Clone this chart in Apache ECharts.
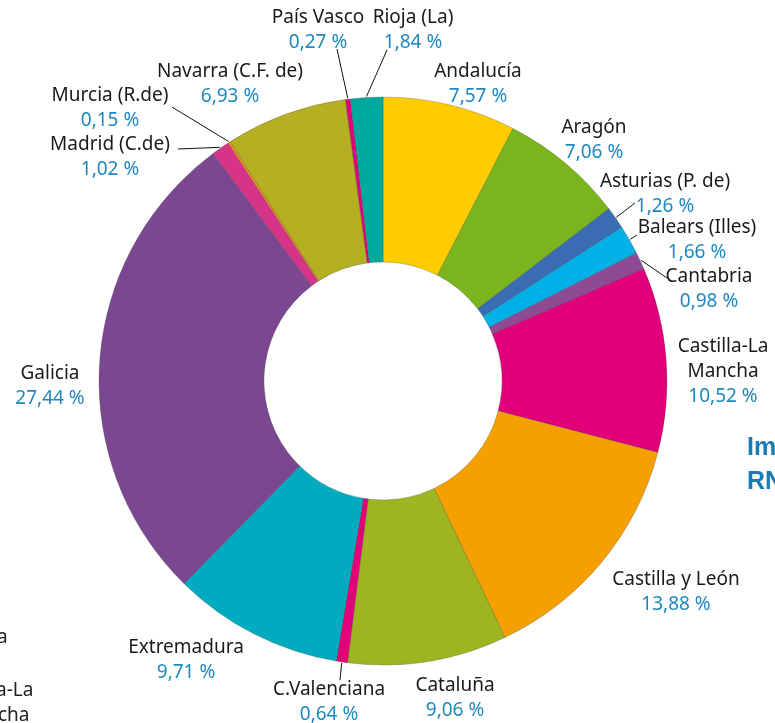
<!DOCTYPE html>
<html>
<head>
<meta charset="utf-8">
<script src="https://cdn.jsdelivr.net/npm/echarts@6/dist/echarts.min.js"></script>
<style>
html,body{margin:0;padding:0;background:#fff;}
#chart{width:775px;height:723px;}
</style>
</head>
<body>
<div id="chart"></div>
<script>
var regions = ['Andalucía', 'Aragón', 'Asturias (P. de)', 'Balears (Illes)', 'Cantabria', 'Castilla-La Mancha',
    'Castilla y León', 'Cataluña', 'C.Valenciana', 'Extremadura', 'Galicia', 'Madrid (C.de)',
    'Murcia (R.de)', 'Navarra (C.F. de)', 'País Vasco', 'Rioja (La)'];
var shares = [7.57, 7.06, 1.26, 1.66, 0.98, 10.52, 13.88, 9.06, 0.64, 9.71, 27.44, 1.02, 0.15, 6.93, 0.27, 1.84];
var colors = ['#ffcc00', '#7ab51e', '#3a6cb3', '#00b0e6', '#8f4a96', '#e2007a', '#f5a000', '#9fb520',
    '#e2007a', '#00aabf', '#7a4790', '#d63389', '#f08a1d', '#b5b021', '#e2007a', '#00a99d'];

// label placement: [x, y, end of guide line or null]
var labelSpots = [
    [478, 84, null], [594, 140, null], [665, 194, [635, 203]], [697, 240, [637, 235]],
    [709, 289, [667, 278]], [723, 372, null], [676, 592, null], [455, 698, null],
    [329, 702, [340, 680]], [186, 660, null], [50, 386, null], [110, 157, [178, 149]],
    [110, 108, [172, 107]], [230, 84, null], [318, 30, [337, 49]], [413, 30, [387, 50]]
];

var cx = 383, cy = 381, rIn = 119, rOut = 284;

var total = 0;
shares.forEach(function (v) { total += v; });
var midAngles = [];
var acc = 0;
shares.forEach(function (v) {
    midAngles.push((acc + v / 2) / total * Math.PI * 2);
    acc += v;
});

function fmtPct(v) {
    return v.toFixed(2).replace('.', ',') + ' %';
}

var pieData = regions.map(function (name, i) {
    return {
        name: name,
        value: shares[i],
        itemStyle: { color: colors[i] },
        labelLine: { show: labelSpots[i][2] != null }
    };
});

var myChart = echarts.init(document.getElementById('chart'));
var option = {
    animation: false,
    backgroundColor: '#fff',
    textStyle: { fontFamily: 'Noto Sans' },
    graphic: [
        { type: 'text', left: -3, top: 628, style: { text: 'a', font: '19px "Noto Sans"', fill: '#222' } },
        { type: 'text', left: -4, top: 681, style: { text: 'a-La', font: '19px "Noto Sans"', fill: '#222' } },
        { type: 'text', left: -2, top: 706, style: { text: 'cha', font: '19px "Noto Sans"', fill: '#222' } },
        { type: 'text', left: 747, top: 436, style: { text: 'Im', font: 'bold 25px "Liberation Sans"', fill: '#1a7cb4' } },
        { type: 'text', left: 747, top: 470, style: { text: 'RN', font: 'bold 25px "Liberation Sans"', fill: '#1a7cb4' } }
    ],
    series: [
        {
            type: 'pie',
            center: [cx, cy],
            radius: [rIn, rOut],
            startAngle: 90,
            clockwise: true,
            avoidLabelOverlap: false,
            silent: true,
            itemStyle: {
                borderColor: 'rgba(60,60,60,0.45)',
                borderWidth: 0.6
            },
            label: {
                show: true,
                position: 'outside',
                formatter: function (p) {
                    var nm = p.name === 'Castilla-La Mancha' ? '{n|Castilla-La}\n{n|Mancha}' : '{n|' + p.name + '}';
                    return nm + '\n{p|' + fmtPct(p.value) + '}';
                },
                rich: {
                    n: { fontSize: 19, color: '#1a1a1a', lineHeight: 25, fontFamily: 'Noto Sans', align: 'center' },
                    p: { fontSize: 19, color: '#1f88c0', lineHeight: 25, fontFamily: 'Noto Sans', align: 'center' }
                }
            },
            labelLine: {
                lineStyle: { color: '#111', width: 1 }
            },
            labelLayout: function (params) {
                var i = params.dataIndex;
                var spot = labelSpots[i];
                var res = { x: spot[0], y: spot[1], align: 'center', verticalAlign: 'middle' };
                if (spot[2]) {
                    var a = midAngles[i];
                    var sx = cx + (rOut + 1) * Math.sin(a);
                    var sy = cy - (rOut + 1) * Math.cos(a);
                    res.labelLinePoints = [[sx, sy], spot[2], spot[2]];
                }
                return res;
            },
            data: pieData
        }
    ]
};
myChart.setOption(option);
</script>
</body>
</html>
